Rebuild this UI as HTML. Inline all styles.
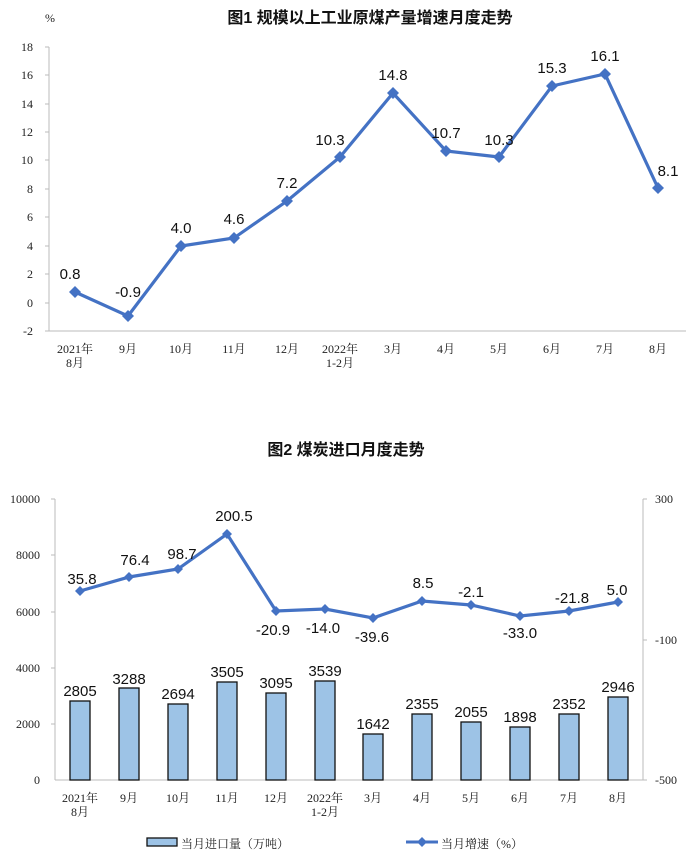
<!DOCTYPE html>
<html><head><meta charset="utf-8"><style>
html,body{margin:0;padding:0;background:#fff;}
svg{display:block;font-family:"Liberation Sans","Noto Sans CJK SC",sans-serif;}
.t{font-family:"Liberation Serif","Noto Serif CJK SC",serif;font-size:12px;fill:#222;}
.v{font-size:15px;fill:#111;}
.ttl{font-family:"Liberation Sans","Noto Sans CJK SC",sans-serif;font-size:16px;font-weight:bold;fill:#111;}
</style></head><body>
<svg width="692" height="864" viewBox="0 0 692 864" xmlns="http://www.w3.org/2000/svg">
<!-- Chart 1 -->
<text x="45" y="22" class="t" font-size="13">%</text>
<text x="370" y="23" class="ttl" text-anchor="middle">图1  规模以上工业原煤产量增速月度走势</text>
<g stroke="#bbb" stroke-width="1" fill="none">
<line x1="49" y1="47" x2="49" y2="331"/>
<line x1="49" y1="331" x2="686" y2="331"/>
</g>
<g class="t" text-anchor="end">
<text x="33" y="51">18</text><text x="33" y="79">16</text><text x="33" y="108">14</text><text x="33" y="136">12</text><text x="33" y="164">10</text><text x="33" y="193">8</text><text x="33" y="221">6</text><text x="33" y="250">4</text><text x="33" y="278">2</text><text x="33" y="307">0</text><text x="33" y="335">-2</text>
</g>
<g stroke="#bbb"><line x1="45" y1="47" x2="49" y2="47"/><line x1="45" y1="75" x2="49" y2="75"/><line x1="45" y1="104" x2="49" y2="104"/><line x1="45" y1="132" x2="49" y2="132"/><line x1="45" y1="160" x2="49" y2="160"/><line x1="45" y1="189" x2="49" y2="189"/><line x1="45" y1="217" x2="49" y2="217"/><line x1="45" y1="246" x2="49" y2="246"/><line x1="45" y1="274" x2="49" y2="274"/><line x1="45" y1="303" x2="49" y2="303"/><line x1="45" y1="331" x2="49" y2="331"/></g>
<g class="t" text-anchor="middle">
<text x="75" y="353">2021年</text><text x="75" y="367">8月</text>
<text x="128" y="353">9月</text><text x="181" y="353">10月</text><text x="234" y="353">11月</text><text x="287" y="353">12月</text>
<text x="340" y="353">2022年</text><text x="340" y="367">1-2月</text>
<text x="393" y="353">3月</text><text x="446" y="353">4月</text><text x="499" y="353">5月</text><text x="552" y="353">6月</text><text x="605" y="353">7月</text><text x="658" y="353">8月</text>
</g>
<polyline fill="none" stroke="#4472C4" stroke-width="3.2" points="75,292 128,316 181,246 234,238 287,201 340,157 393,93 446,151 499,157 552,86 605,74 658,188"/>
<g fill="#4472C4">
<path d="M75,286l6,6l-6,6l-6,-6z"/><path d="M128,310l6,6l-6,6l-6,-6z"/><path d="M181,240l6,6l-6,6l-6,-6z"/><path d="M234,232l6,6l-6,6l-6,-6z"/><path d="M287,195l6,6l-6,6l-6,-6z"/><path d="M340,151l6,6l-6,6l-6,-6z"/><path d="M393,87l6,6l-6,6l-6,-6z"/><path d="M446,145l6,6l-6,6l-6,-6z"/><path d="M499,151l6,6l-6,6l-6,-6z"/><path d="M552,80l6,6l-6,6l-6,-6z"/><path d="M605,68l6,6l-6,6l-6,-6z"/><path d="M658,182l6,6l-6,6l-6,-6z"/>
</g>
<g class="v" text-anchor="middle">
<text x="70" y="279">0.8</text><text x="128" y="297">-0.9</text><text x="181" y="233">4.0</text><text x="234" y="224">4.6</text><text x="287" y="188">7.2</text><text x="330" y="145">10.3</text><text x="393" y="80">14.8</text><text x="446" y="138">10.7</text><text x="499" y="145">10.3</text><text x="552" y="73">15.3</text><text x="605" y="61">16.1</text><text x="668" y="176">8.1</text>
</g>

<!-- Chart 2 -->
<text x="346" y="455" class="ttl" text-anchor="middle">图2  煤炭进口月度走势</text>
<g stroke="#bbb" fill="none">
<line x1="55" y1="499" x2="55" y2="780"/>
<line x1="55" y1="780" x2="643" y2="780"/>
<line x1="643" y1="499" x2="643" y2="780"/>
<line x1="51" y1="499" x2="55" y2="499"/><line x1="51" y1="555" x2="55" y2="555"/><line x1="51" y1="612" x2="55" y2="612"/><line x1="51" y1="668" x2="55" y2="668"/><line x1="51" y1="724" x2="55" y2="724"/>
<line x1="643" y1="499" x2="647" y2="499"/><line x1="643" y1="640" x2="647" y2="640"/><line x1="643" y1="780" x2="647" y2="780"/>
</g>
<g class="t" text-anchor="end">
<text x="40" y="503">10000</text><text x="40" y="559">8000</text><text x="40" y="616">6000</text><text x="40" y="672">4000</text><text x="40" y="728">2000</text><text x="40" y="784">0</text>
</g>
<g class="t">
<text x="655" y="503">300</text><text x="655" y="644">-100</text><text x="655" y="784">-500</text>
</g>
<g fill="#9DC3E6" stroke="#111" stroke-width="1.3">
<rect x="70" y="701" width="20" height="79"/><rect x="119" y="688" width="20" height="92"/><rect x="168" y="704" width="20" height="76"/><rect x="217" y="682" width="20" height="98"/><rect x="266" y="693" width="20" height="87"/><rect x="315" y="681" width="20" height="99"/><rect x="363" y="734" width="20" height="46"/><rect x="412" y="714" width="20" height="66"/><rect x="461" y="722" width="20" height="58"/><rect x="510" y="727" width="20" height="53"/><rect x="559" y="714" width="20" height="66"/><rect x="608" y="697" width="20" height="83"/>
</g>
<g class="v" text-anchor="middle">
<text x="80" y="696">2805</text><text x="129" y="684">3288</text><text x="178" y="699">2694</text><text x="227" y="677">3505</text><text x="276" y="688">3095</text><text x="325" y="676">3539</text><text x="373" y="729">1642</text><text x="422" y="709">2355</text><text x="471" y="717">2055</text><text x="520" y="722">1898</text><text x="569" y="709">2352</text><text x="618" y="692">2946</text>
</g>
<g class="t" text-anchor="middle">
<text x="80" y="802">2021年</text><text x="80" y="816">8月</text>
<text x="129" y="802">9月</text><text x="178" y="802">10月</text><text x="227" y="802">11月</text><text x="276" y="802">12月</text>
<text x="325" y="802">2022年</text><text x="325" y="816">1-2月</text>
<text x="373" y="802">3月</text><text x="422" y="802">4月</text><text x="471" y="802">5月</text><text x="520" y="802">6月</text><text x="569" y="802">7月</text><text x="618" y="802">8月</text>
</g>
<polyline fill="none" stroke="#4472C4" stroke-width="3.2" points="80,591 129,577 178,569 227,534 276,611 325,609 373,618 422,601 471,605 520,616 569,611 618,602"/>
<g fill="#4472C4">
<path d="M80,586l5,5l-5,5l-5,-5z"/><path d="M129,572l5,5l-5,5l-5,-5z"/><path d="M178,564l5,5l-5,5l-5,-5z"/><path d="M227,529l5,5l-5,5l-5,-5z"/><path d="M276,606l5,5l-5,5l-5,-5z"/><path d="M325,604l5,5l-5,5l-5,-5z"/><path d="M373,613l5,5l-5,5l-5,-5z"/><path d="M422,596l5,5l-5,5l-5,-5z"/><path d="M471,600l5,5l-5,5l-5,-5z"/><path d="M520,611l5,5l-5,5l-5,-5z"/><path d="M569,606l5,5l-5,5l-5,-5z"/><path d="M618,597l5,5l-5,5l-5,-5z"/>
</g>
<g class="v" text-anchor="middle">
<text x="82" y="584">35.8</text><text x="135" y="565">76.4</text><text x="182" y="559">98.7</text><text x="234" y="521">200.5</text><text x="273" y="635">-20.9</text><text x="323" y="633">-14.0</text><text x="372" y="642">-39.6</text><text x="423" y="588">8.5</text><text x="471" y="597">-2.1</text><text x="520" y="638">-33.0</text><text x="572" y="603">-21.8</text><text x="617" y="595">5.0</text>
</g>
<!-- legend -->
<rect x="147" y="838" width="30" height="8" fill="#9DC3E6" stroke="#111" stroke-width="1.3"/>
<text x="181" y="848" class="t" font-size="13" font-family="Noto Sans CJK SC,sans-serif">当月进口量（万吨）</text>
<line x1="406" y1="842" x2="438" y2="842" stroke="#4472C4" stroke-width="3"/>
<path d="M422,837l5,5l-5,5l-5,-5z" fill="#4472C4"/>
<text x="441" y="848" class="t" font-size="13" font-family="Noto Sans CJK SC,sans-serif">当月增速（%）</text>
</svg>
</body></html>
